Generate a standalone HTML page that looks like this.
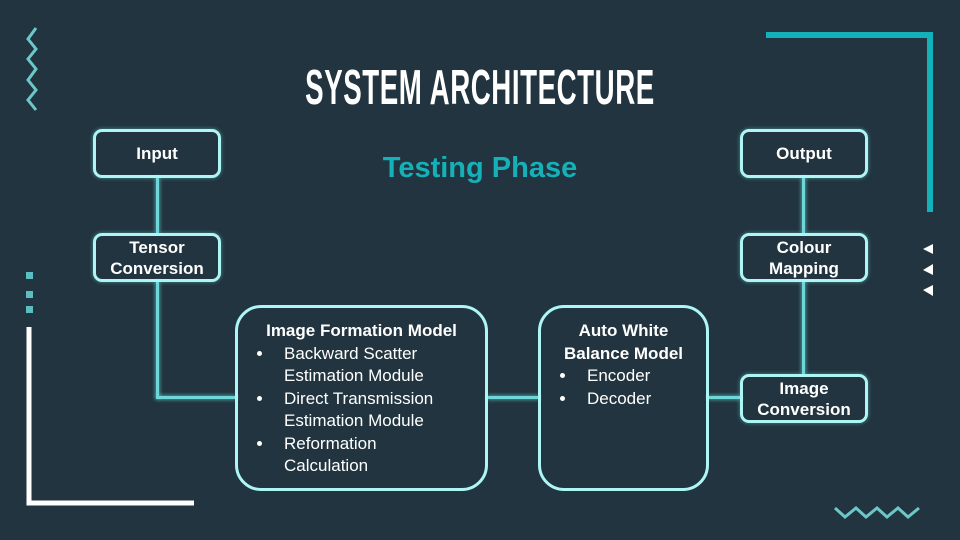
<!DOCTYPE html>
<html><head><meta charset="utf-8"><style>
body{margin:0;width:960px;height:540px;background:#21343f;position:relative;overflow:hidden;font-family:"Liberation Sans",sans-serif;color:#fff}
.b{position:absolute;border:3px solid #aef5f5;border-radius:9px;box-sizing:border-box;display:flex;align-items:center;justify-content:center;text-align:center;font-weight:bold;font-size:17px;line-height:21px;box-shadow:0 0 4px rgba(120,230,230,.5)}
.l{position:absolute;background:#6fd6da;box-shadow:0 0 4px #6fd6da}
.big{position:absolute;border:3px solid #aef5f5;border-radius:26px;box-sizing:border-box;font-size:17px;line-height:22.5px}
.big h{display:block;text-align:center;font-weight:bold}
ul{margin:0;padding-left:36px}
li{padding-left:10px}
</style></head><body>
<svg width="960" height="540" style="position:absolute;left:0;top:0">
<polyline points="36,28 28,39 36,49 28,59 36,69 28,80 36,90 28,100 36,110" fill="none" stroke="#6cc8c8" stroke-width="3"/>
<rect x="26" y="272" width="7" height="7" fill="#5bbfc2"/><rect x="26" y="291" width="7" height="7" fill="#5bbfc2"/><rect x="26" y="306" width="7" height="7" fill="#5bbfc2"/>
<polyline points="29,327 29,503 194,503" fill="none" stroke="#fff" stroke-width="5"/>
<polyline points="766,35 930,35 930,212" fill="none" stroke="#13b2b8" stroke-width="6"/>
<polygon points="933,244 923,249 933,254" fill="#fff"/><polygon points="933,264 923,270 933,275" fill="#fff"/><polygon points="933,285 923,290 933,296" fill="#fff"/>
<polyline points="835,508 845,517 856,508 866,517 877,508 887,517 898,508 908,517 919,508" fill="none" stroke="#6cc8c8" stroke-width="3"/>
</svg>
<div style="position:absolute;left:0;top:62px;width:960px;text-align:center;font-weight:bold;font-size:49px;line-height:52px;transform:scaleX(0.565);white-space:nowrap;letter-spacing:1px">SYSTEM ARCHITECTURE</div>
<div style="position:absolute;left:330px;top:152px;width:300px;text-align:center;font-weight:bold;font-size:29px;color:#15b1b8">Testing Phase</div>
<div class="l" style="left:156px;top:177px;width:3px;height:56px"></div>
<div class="l" style="left:156px;top:281px;width:3px;height:117px"></div>
<div class="l" style="left:156px;top:396px;width:80px;height:3px"></div>
<div class="l" style="left:487px;top:396px;width:52px;height:3px"></div>
<div class="l" style="left:708px;top:396px;width:33px;height:3px"></div>
<div class="l" style="left:802px;top:177px;width:3px;height:56px"></div>
<div class="l" style="left:802px;top:281px;width:3px;height:93px"></div>
<div class="b" style="left:93px;top:129px;width:128px;height:49px">Input</div>
<div class="b" style="left:93px;top:233px;width:128px;height:49px">Tensor<br>Conversion</div>
<div class="b" style="left:740px;top:129px;width:128px;height:49px">Output</div>
<div class="b" style="left:740px;top:233px;width:128px;height:49px">Colour<br>Mapping</div>
<div class="b" style="left:740px;top:374px;width:128px;height:49px">Image<br>Conversion</div>
<div class="big" style="left:235px;top:305px;width:253px;height:186px;padding-top:12px;padding-right:28px"><h style="margin-right:-28px">Image Formation Model</h><ul><li>Backward Scatter Estimation Module</li><li>Direct Transmission Estimation Module</li><li>Reformation Calculation</li></ul></div>
<div class="big" style="left:538px;top:305px;width:171px;height:186px;padding-top:12px"><h>Auto White<br>Balance Model</h><ul><li>Encoder</li><li>Decoder</li></ul></div>
</body></html>
